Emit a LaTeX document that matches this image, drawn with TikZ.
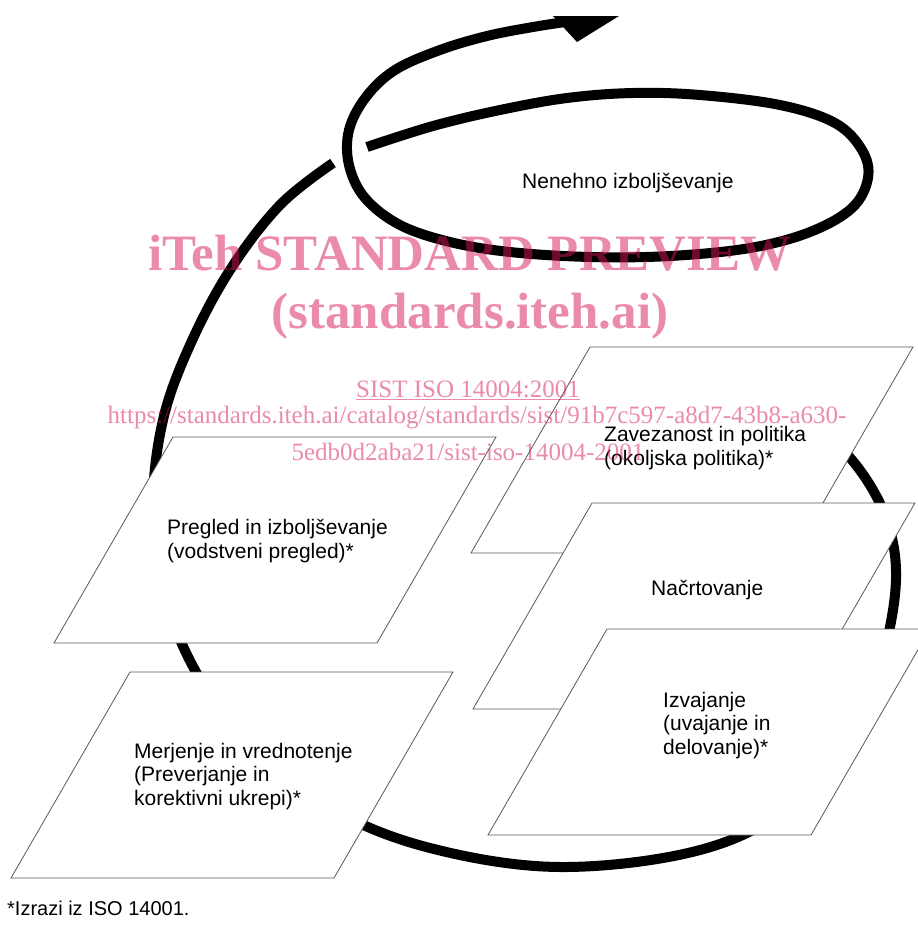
\documentclass[tikz,border=0pt]{standalone}
\usepackage{fontspec}
\setmainfont{Liberation Sans}
\newfontfamily\wmfont{Liberation Serif}
\definecolor{wmpink}{RGB}{215,25,85}
\tikzset{
    spiral/.style={line width=10pt, draw=black, line cap=butt},
    panel/.style={draw=black!65, line width=0.8pt, fill=white},
    boxtext/.style={font=\fontsize{21}{23.5}\selectfont, align=left, anchor=base west, inner sep=0pt},
    wmbig/.style={font=\wmfont\bfseries\fontsize{51}{56}\selectfont, text=wmpink, opacity=0.5, anchor=base, inner sep=0pt},
    wmsmall/.style={font=\wmfont\fontsize{25}{28}\selectfont, text=wmpink, opacity=0.5, anchor=base, inner sep=0pt},
}

\begin{document}
\begin{tikzpicture}[x=1pt, y=-1pt]
    \newcommand\panW{323}
    \newcommand\panH{206}
    \newcommand\panS{119}

    \useasboundingbox[fill=white] (0,0) rectangle (918,930);
    \clip (0,0) rectangle (918,930);

    % outer loop, from behind the policy panel round to the crossing
    \draw[spiral] plot[smooth, tension=0.6] coordinates {(790,410) (852,460) (890,530) (893,610) (860,720) (790,805) (700,850) (560,867) (430,848) (330,808) (250,745) (196,672) (163,590) (153,505) (163,420) (190,345) (230,270) (280,205) (333,163)};
    % small loop and the way out
    \draw[spiral] plot[smooth, tension=0.6] coordinates {(367,147) (433,126) (500,110) (567,98) (633,93) (700,95) (780,105) (835,123) (862,150) (868,178) (852,208) (810,232) (750,248) (670,256) (590,257) (510,252) (450,242) (400,225) (365,198) (349,165) (349,130) (366,97) (395,70) (440,50) (487,36) (533,27) (572,21)};
    \fill (553,16) -- (619,16) -- (577,42) -- cycle;

    \node[boxtext] (cont) at (522,188) {Nenehno izboljševanje};

    % panels
    \draw[panel] (173,437) -- ++(\panW,0) -- ++(-\panS,\panH) -- ++(-\panW,0) -- cycle;
    \draw[panel] (130,672) -- ++(\panW,0) -- ++(-\panS,\panH) -- ++(-\panW,0) -- cycle;
    \draw[panel] (590,347) -- ++(\panW,0) -- ++(-\panS,\panH) -- ++(-\panW,0) -- cycle;
    \draw[panel] (592,503) -- ++(\panW,0) -- ++(-\panS,\panH) -- ++(-\panW,0) -- cycle;
    \draw[panel] (607,629) -- ++(\panW,0) -- ++(-\panS,\panH) -- ++(-\panW,0) -- cycle;

    % base of a multi-line node is its last line
    \node[boxtext] (policy) at (604,465) {Zavezanost in politika\\(okoljska politika)*};
    \node[boxtext] (plan) at (651,595) {Načrtovanje};
    \node[boxtext] (impl) at (663,754) {Izvajanje\\(uvajanje in\\delovanje)*};
    \node[boxtext] (review) at (167,558) {Pregled in izboljševanje\\(vodstveni pregled)*};
    \node[boxtext] (check) at (134,805) {Merjenje in vrednotenje\\(Preverjanje in\\korektivni ukrepi)*};
    \node[boxtext, font=\fontsize{20}{23}\selectfont] (note) at (7,915) {*Izrazi iz ISO 14001.};

    % watermark
    \node[wmbig] (wmA) at (470,270) {iTeh STANDARD PREVIEW};
    \node[wmbig] (wmB) at (470,328) {(standards.iteh.ai)};
    \node[wmsmall] (wmC) at (468,397) {\underline{SIST ISO 14004:2001}};
    \node[wmsmall] (wmD) at (477,423) {https://standards.iteh.ai/catalog/standards/sist/91b7c597-a8d7-43b8-a630-};
    \node[wmsmall] (wmE) at (468,460) {5edb0d2aba21/sist-iso-14004-2001};
\end{tikzpicture}
\end{document}
